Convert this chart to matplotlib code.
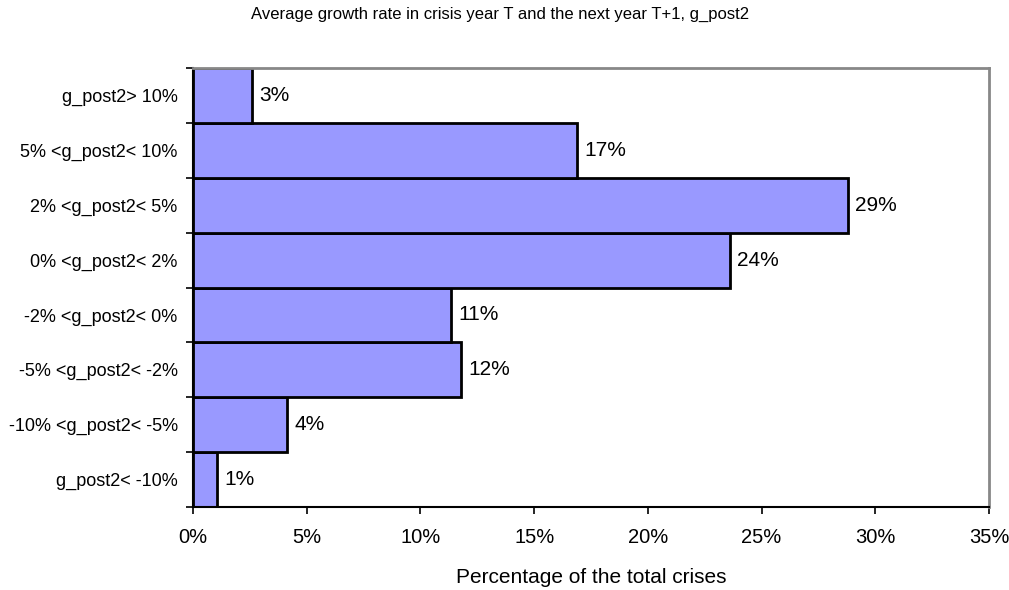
import numpy as np
import matplotlib.pyplot as plt

plt.rcParams['font.family'] = ['Liberation Sans', 'DejaVu Sans']

categories = ['g_post2< -10%', '-10% <g_post2< -5%', '-5% <g_post2< -2%',
              '-2% <g_post2< 0%', '0% <g_post2< 2%', '2% <g_post2< 5%',
              '5% <g_post2< 10%', 'g_post2> 10%']
shares = [1.06, 4.13, 11.8, 11.35, 23.6, 28.8, 16.9, 2.6]
xticks = [0, 5, 10, 15, 20, 25, 30, 35]

fig = plt.figure(figsize=(10.09, 5.9), dpi=100)
ax = fig.add_axes([193 / 1009, 1 - 507 / 590, 796 / 1009, 439 / 590])

y = np.arange(len(categories))
ax.barh(y, shares, height=1.0, color='#9999ff', edgecolor='black', linewidth=2)

for yi, v in zip(y, shares):
    ax.text(v + 0.33, yi, f'{v:.0f}%', va='center', ha='left', fontsize=15)

ax.set_xlim(0, 35)
ax.set_ylim(-0.5, len(categories) - 0.5)
ax.set_xticks(xticks)
ax.set_xticklabels([f'{t}%' for t in xticks], fontsize=14.5)
ax.set_yticks(y)
ax.set_yticklabels(categories, fontsize=13)
ax.tick_params(axis='y', length=0, pad=11)
ax.set_yticks(np.arange(-0.5, len(categories)), minor=True)
ax.tick_params(axis='y', which='minor', length=5, width=1.2, direction='out')
ax.tick_params(axis='x', length=5, width=1.2, direction='out', pad=10)

for side in ['top', 'right']:
    ax.spines[side].set_color('#888888')
    ax.spines[side].set_linewidth(2)
for side in ['left', 'bottom']:
    ax.spines[side].set_color('black')
    ax.spines[side].set_linewidth(1.5)

ax.set_xlabel('Percentage of the total crises', fontsize=15, labelpad=15)
fig.text(500 / 1009, 1 - 14 / 590,
         'Average growth rate in crisis year T and the next year T+1, g_post2',
         ha='center', va='center', fontsize=12)

fig.savefig('out.png', dpi=100)
